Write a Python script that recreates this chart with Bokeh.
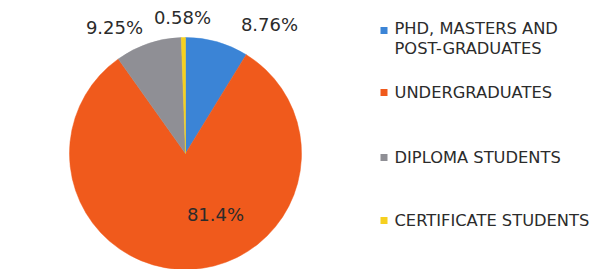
import numpy as np
from bokeh.plotting import figure
from bokeh.models import Range1d, ColumnDataSource
from bokeh.core.properties import value
from bokeh.embed import file_html
from bokeh.resources import INLINE

# ---- data ----
categories = ["PHD, MASTERS AND\nPOST-GRADUATES", "UNDERGRADUATES", "DIPLOMA STUDENTS", "CERTIFICATE STUDENTS"]
shares = [8.76, 81.4, 9.25, 0.58]
pct_labels = ["8.76%", "81.4%", "9.25%", "0.58%"]
colors = ["#3b84d6", "#f05a1c", "#8f8f95", "#f6d01f"]

# ---- layout (reference pixel coordinates, y down) ----
W, H = 591, 269
def Y(yw):
    return H - yw

cx, cy, R = 185, 153, 116
label_pos = [(269, 24), (215, 214), (114, 27), (182, 17)]
legend_y = [(30, [28, 48]), (92, [92]), (157, [157]), (220, [220])]
legend_sq_x, legend_tx = 383.5, 394

p = figure(width=W, height=H, output_backend="svg", toolbar_location=None,
           x_range=Range1d(0, W), y_range=Range1d(0, H),
           min_border=0)
p.axis.visible = False
p.grid.visible = False
p.outline_line_color = None
p.background_fill_color = "white"

total = sum(shares)
fr = np.array(shares) / total
cum = np.concatenate([[0], np.cumsum(fr)])
starts = np.pi / 2 - 2 * np.pi * cum[:-1]
ends = np.pi / 2 - 2 * np.pi * cum[1:]

src = ColumnDataSource(dict(x=[cx] * 4, y=[Y(cy)] * 4, s=starts, e=ends, c=colors))
p.wedge(x="x", y="y", radius=R, radius_units="screen", start_angle="s", end_angle="e",
        direction="clock", fill_color="c", line_color="c", line_width=0.5, source=src)

# percentage labels
p.text(x=[lp[0] for lp in label_pos], y=[Y(lp[1]) for lp in label_pos], text=pct_labels,
       text_font=value("DejaVu Sans"), text_font_size="18px", text_color="#2b2b2b",
       text_align="center", text_baseline="middle")

# legend
for (sy, lines), name, col in zip(legend_y, categories, colors):
    p.scatter(x=[legend_sq_x], y=[Y(sy)], marker="square", size=7, fill_color=col, line_color=None)
    for ly, t in zip(lines, name.split("\n")):
        p.text(x=[legend_tx], y=[Y(ly)], text=[t], text_font=value("DejaVu Sans"),
               text_font_size="16.3px", text_color="#2b2b2b",
               text_align="left", text_baseline="middle")

open("out.html", "w").write(file_html(p, INLINE))
